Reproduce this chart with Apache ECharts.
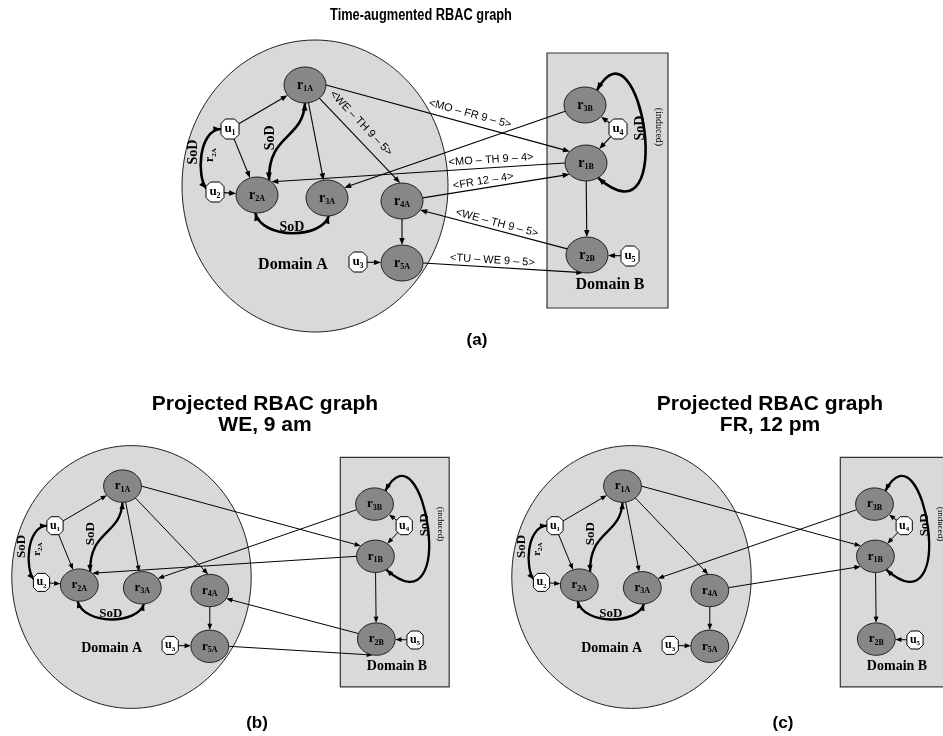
<!DOCTYPE html>
<html>
<head>
<meta charset="utf-8">
<script src="https://cdn.jsdelivr.net/npm/echarts@6/dist/echarts.min.js"></script>
<style>
html, body { margin: 0; padding: 0; background: #fff; }
#main { width: 943px; height: 736px; }
</style>
</head>
<body>
<div id="main"></div>
<script>
// roles and users, placed in the units of panel (a)
const roleIds = ['r1A', 'r2A', 'r3A', 'r4A', 'r5A', 'r1B', 'r2B', 'r3B'];
const roleX = [305, 257, 327, 402, 402, 586, 587, 585];
const roleY = [85, 195, 198, 201, 263, 163, 255, 105];
const userIds = ['u1', 'u2', 'u3', 'u4', 'u5'];
const userX = [230, 215, 358, 618, 630];
const userY = [129, 192, 262, 129, 256];

// assignment / hierarchy links, arrow at the target
const linkFrom = ['u1', 'u1', 'u2', 'u3', 'u4', 'u4', 'u5', 'r1A', 'r1A', 'r4A', 'r1B', 'r1A', 'r3B', 'r1B', 'r4A', 'r2B', 'r5A'];
const linkTo = ['r1A', 'r2A', 'r2A', 'r5A', 'r3B', 'r1B', 'r2B', 'r3A', 'r4A', 'r5A', 'r2B', 'r1B', 'r3A', 'r2A', 'r1B', 'r4A', 'r2B'];
const linkTime = ['', '', '', '', '', '', '', '', '<WE – TH 9 – 5>', '', '', '<MO – FR 9 – 5>', '', '<MO – TH 9 – 4>', '<FR 12 – 4>', '<WE – TH 9 – 5>', '<TU – WE 9 – 5>'];
// which links are still there in the projected graphs
const linkInA = [1, 1, 1, 1, 1, 1, 1, 1, 1, 1, 1, 1, 1, 1, 1, 1, 1];
const linkInB = [1, 1, 1, 1, 1, 1, 1, 1, 1, 1, 1, 1, 1, 1, 0, 1, 1];
const linkInC = [1, 1, 1, 1, 1, 1, 1, 1, 1, 1, 1, 1, 1, 0, 1, 0, 0];

// separation of duty constraints
const sodFrom = ['u1', 'r2A', 'r2A', 'r3B'];
const sodTo = ['u2', 'r1A', 'r3A', 'r1B'];
const sodNote = ['r2A', '', '', '(induced)'];

// panel titles
const panelTitles = ['Time-augmented RBAC graph', 'Projected RBAC graph\nWE, 9 am', 'Projected RBAC graph\nFR, 12 pm'];
const panelTags = ['(a)', '(b)', '(c)'];

// ---- layout ----
const portOut = [null, null, null, null, null, null, null, null, 47, null, null, 0, 160, 180, -10, 200, 0];
const portIn = [null, null, null, null, null, null, null, null, -95, null, null, -140, -35, -47, 141, 30, 100];
const labelT = [0, 0, 0, 0, 0, 0, 0, 0, 0.4, 0, 0, 0.58, 0, 0.25, 0.42, 0.49, 0.43];
const labelGap = [0, 0, 0, 0, 0, 0, 0, 0, 13, 0, 0, 10, 0, 8, 7, 7, 7];

const sodPortOut = [180, -55, 95, -55];
const sodPortIn = [200, 90, 85, 55];
const sodHandleOut = [[-23, 1], [-1, -47], [7, 27], [43, -80]];
const sodHandleIn = [[-10, -11], [-2, 37], [-7, 23], [82, 72]];
const sodLabelOff = [[-8, -3], [-16, 0], [0, -6], [-4, -3]];
const sodLabelRot = [90, 90, 0, 90];
const sodNoteOff = [[9, 0], null, null, [14, -4]];
const sodNoteRot = [90, 0, 0, -90];

const domainA = { cx: 315, cy: 186, rx: 133, ry: 146, labelX: 293, labelY: 265 };
const domainB = { x0: 547, y0: 53, x1: 668, y1: 308, labelX: 610, labelY: 285 };

const panels = [
    { px: 315, py: 186, s: 1, time: true, links: linkInA, titleX: 421, titleY: 16, tagX: 477, tagY: 340 },
    { px: 131.5, py: 577, s: 0.9, time: false, links: linkInB, titleX: 265, titleY: 415, tagX: 257, tagY: 723 },
    { px: 631.5, py: 577, s: 0.9, time: false, links: linkInC, titleX: 770, titleY: 415, tagX: 783, tagY: 723 }
];
const XR = [170, 660], YR = [30, 340];

const SERIF = '"Liberation Serif", "DejaVu Serif", serif';
const SANS = '"Liberation Sans", Arial, sans-serif';
const ROLE_FILL = '#878787';
const DOMAIN_FILL = '#d9d9d9';

function nodeXY(id) {
    if (id[0] === 'r') {
        const i = roleIds.indexOf(id);
        return [roleX[i], roleY[i]];
    }
    const i = userIds.indexOf(id);
    return [userX[i], userY[i]];
}
function nodeRadii(id, s) {
    return id[0] === 'r' ? [21 * s, 18 * s] : [9 * s, 10 * s];
}
function edgePoint(c, r, toward, port) {
    if (port != null) {
        const a = port * Math.PI / 180;
        return [c[0] + r[0] * Math.cos(a), c[1] + r[1] * Math.sin(a)];
    }
    const dx = toward[0] - c[0], dy = toward[1] - c[1];
    const k = 1 / Math.sqrt((dx / r[0]) ** 2 + (dy / r[1]) ** 2);
    return [c[0] + dx * k, c[1] + dy * k];
}
function arrowHead(tip, from, s) {
    const dx = tip[0] - from[0], dy = tip[1] - from[1];
    const L = Math.hypot(dx, dy) || 1;
    const ux = dx / L, uy = dy / L, len = 7 * s, w = 2.7 * s;
    const bx = tip[0] - ux * len, by = tip[1] - uy * len;
    return {
        type: 'polygon',
        shape: { points: [tip, [bx - uy * w, by + ux * w], [bx + uy * w, by - ux * w]] },
        style: { fill: '#000' }
    };
}
function subLabel(main, sub, size, rotation, x, y) {
    return {
        type: 'text', x: x, y: y, rotation: rotation,
        style: {
            text: '{m|' + main + '}{d|' + sub + '}',
            align: 'center', verticalAlign: 'middle',
            rich: {
                m: { fontFamily: SERIF, fontWeight: 'bold', fontSize: size, lineHeight: size + 2, fill: '#000' },
                d: { fontFamily: SERIF, fontWeight: 'bold', fontSize: Math.round(size * 0.6), lineHeight: Math.round(size * 0.6), verticalAlign: 'bottom', fill: '#000' }
            }
        }
    };
}

function renderDomains(params, api) {
    const s = api.size([1, 0])[0];
    const c = api.coord([domainA.cx, domainA.cy]);
    const b0 = api.coord([domainB.x0, domainB.y0]);
    const b1 = api.coord([domainB.x1, domainB.y1]);
    const la = api.coord([domainA.labelX, domainA.labelY]);
    const lb = api.coord([domainB.labelX, domainB.labelY]);
    const font = 'bold ' + Math.round(16 * s) + 'px ' + SERIF;
    return {
        type: 'group',
        children: [
            { type: 'ellipse', shape: { cx: c[0], cy: c[1], rx: domainA.rx * s, ry: domainA.ry * s }, style: { fill: DOMAIN_FILL, stroke: '#222', lineWidth: 1 } },
            { type: 'rect', shape: { x: b0[0], y: b0[1], width: b1[0] - b0[0], height: b1[1] - b0[1] }, style: { fill: DOMAIN_FILL, stroke: '#333', lineWidth: 1.2 } },
            { type: 'text', x: la[0], y: la[1], style: { text: 'Domain A', font: font, fill: '#000', align: 'center', verticalAlign: 'middle' } },
            { type: 'text', x: lb[0], y: lb[1], style: { text: 'Domain B', font: font, fill: '#000', align: 'center', verticalAlign: 'middle' } }
        ]
    };
}

function makeLinkRender(showTime) {
    return function (params, api) {
        const k = api.value(4);
        const s = api.size([1, 0])[0];
        const a = api.coord([api.value(0), api.value(1)]);
        const b = api.coord([api.value(2), api.value(3)]);
        const p = edgePoint(a, nodeRadii(linkFrom[k], s), b, portOut[k]);
        const q = edgePoint(b, nodeRadii(linkTo[k], s), a, portIn[k]);
        const dx = q[0] - p[0], dy = q[1] - p[1], L = Math.hypot(dx, dy);
        const ux = dx / L, uy = dy / L, cut = 5 * s;
        const children = [
            { type: 'line', shape: { x1: p[0], y1: p[1], x2: q[0] - ux * cut, y2: q[1] - uy * cut }, style: { stroke: '#000', lineWidth: 1.1 * s } },
            arrowHead(q, p, s)
        ];
        if (showTime && linkTime[k]) {
            let ax = ux, ay = uy;
            if (ax < 0) { ax = -ax; ay = -ay; }
            const t = labelT[k], g = labelGap[k] * s;
            children.push({
                type: 'text',
                x: p[0] + dx * t + ay * g,
                y: p[1] + dy * t - ax * g,
                rotation: -Math.atan2(ay, ax),
                style: { text: linkTime[k], font: Math.round(10.5 * s) + 'px ' + SANS, fill: '#000', align: 'center', verticalAlign: 'middle' }
            });
        }
        return { type: 'group', children: children };
    };
}

function renderSod(params, api) {
    const k = api.value(4);
    const s = api.size([1, 0])[0];
    const a = api.coord([api.value(0), api.value(1)]);
    const b = api.coord([api.value(2), api.value(3)]);
    const p0 = edgePoint(a, nodeRadii(sodFrom[k], s), b, sodPortOut[k]);
    const p3 = edgePoint(b, nodeRadii(sodTo[k], s), a, sodPortIn[k]);
    const c1 = [p0[0] + sodHandleOut[k][0] * s, p0[1] + sodHandleOut[k][1] * s];
    const c2 = [p3[0] + sodHandleIn[k][0] * s, p3[1] + sodHandleIn[k][1] * s];
    const mid = [
        (p0[0] + 3 * c1[0] + 3 * c2[0] + p3[0]) / 8,
        (p0[1] + 3 * c1[1] + 3 * c2[1] + p3[1]) / 8
    ];
    const children = [
        {
            type: 'bezierCurve',
            shape: { x1: p0[0], y1: p0[1], cpx1: c1[0], cpy1: c1[1], cpx2: c2[0], cpy2: c2[1], x2: p3[0], y2: p3[1] },
            style: { stroke: '#000', lineWidth: 2.6 * s, fill: null }
        },
        arrowHead(p0, c1, s * 1.1),
        arrowHead(p3, c2, s * 1.1),
        {
            type: 'text',
            x: mid[0] + sodLabelOff[k][0] * s,
            y: mid[1] + sodLabelOff[k][1] * s,
            rotation: sodLabelRot[k] * Math.PI / 180,
            style: { text: 'SoD', font: 'bold ' + Math.round(14 * s) + 'px ' + SERIF, fill: '#000', align: 'center', verticalAlign: 'middle' }
        }
    ];
    const note = sodNote[k];
    if (note) {
        const nx = mid[0] + sodNoteOff[k][0] * s, ny = mid[1] + sodNoteOff[k][1] * s;
        const rot = sodNoteRot[k] * Math.PI / 180;
        if (note[0] === 'r') {
            children.push(subLabel(note[0], note.slice(1), Math.round(12 * s), rot, nx, ny));
        } else {
            children.push({ type: 'text', x: nx, y: ny, rotation: rot, style: { text: note, font: Math.round(10 * s) + 'px ' + SERIF, fill: '#000', align: 'center', verticalAlign: 'middle' } });
        }
    }
    return { type: 'group', children: children };
}

function renderRole(params, api) {
    const s = api.size([1, 0])[0];
    const c = api.coord([api.value(0), api.value(1)]);
    const id = roleIds[api.value(2)];
    return {
        type: 'group',
        children: [
            { type: 'ellipse', shape: { cx: c[0], cy: c[1], rx: 21 * s, ry: 18 * s }, style: { fill: ROLE_FILL, stroke: '#222', lineWidth: 1 } },
            subLabel('r', id.slice(1), Math.round(14 * s), 0, c[0], c[1])
        ]
    };
}

function renderUser(params, api) {
    const s = api.size([1, 0])[0];
    const c = api.coord([api.value(0), api.value(1)]);
    const id = userIds[api.value(2)];
    const w = 9 * s, h = 10 * s, k = 4.5 * s;
    const pts = [
        [c[0] - w + k, c[1] - h], [c[0] + w - k, c[1] - h], [c[0] + w, c[1] - h + k], [c[0] + w, c[1] + h - k],
        [c[0] + w - k, c[1] + h], [c[0] - w + k, c[1] + h], [c[0] - w, c[1] + h - k], [c[0] - w, c[1] - h + k]
    ];
    return {
        type: 'group',
        children: [
            { type: 'polygon', shape: { points: pts }, style: { fill: '#fff', stroke: '#000', lineWidth: 1 } },
            subLabel('u', id.slice(1), Math.round(13 * s), 0, c[0], c[1])
        ]
    };
}

const grid = [], xAxis = [], yAxis = [], series = [], graphic = [];
panels.forEach(function (p, i) {
    grid.push({
        left: p.px + p.s * (XR[0] - domainA.cx),
        top: p.py + p.s * (YR[0] - domainA.cy),
        width: p.s * (XR[1] - XR[0]),
        height: p.s * (YR[1] - YR[0])
    });
    xAxis.push({ type: 'value', gridIndex: i, min: XR[0], max: XR[1], show: false });
    yAxis.push({ type: 'value', gridIndex: i, min: YR[0], max: YR[1], inverse: true, show: false });
    const on = { coordinateSystem: 'cartesian2d', xAxisIndex: i, yAxisIndex: i, silent: true, animation: false, clip: false };

    series.push(Object.assign({ type: 'custom', z: 1, renderItem: renderDomains, data: [[domainA.cx, domainA.cy]] }, on));

    const links = [];
    linkFrom.forEach(function (f, k) {
        if (!p.links[k]) return;
        const a = nodeXY(f), b = nodeXY(linkTo[k]);
        links.push([a[0], a[1], b[0], b[1], k]);
    });
    series.push(Object.assign({ type: 'custom', z: 2, renderItem: makeLinkRender(p.time), data: links }, on));

    const sods = sodFrom.map(function (f, k) {
        const a = nodeXY(f), b = nodeXY(sodTo[k]);
        return [a[0], a[1], b[0], b[1], k];
    });
    series.push(Object.assign({ type: 'custom', z: 3, renderItem: renderSod, data: sods }, on));

    series.push(Object.assign({ type: 'custom', z: 4, renderItem: renderRole, data: roleX.map(function (x, k) { return [x, roleY[k], k]; }) }, on));
    series.push(Object.assign({ type: 'custom', z: 4, renderItem: renderUser, data: userX.map(function (x, k) { return [x, userY[k], k]; }) }, on));

    graphic.push({
        type: 'text', x: p.titleX, y: p.titleY,
        scaleX: i === 0 ? 0.8 : 1,
        style: {
            text: panelTitles[i], fill: '#000', align: 'center', verticalAlign: 'middle',
            font: i === 0 ? 'bold 16px ' + SANS : 'bold 21px ' + SANS,
            lineHeight: 21
        }
    });
    graphic.push({
        type: 'text', x: p.tagX, y: p.tagY,
        style: { text: panelTags[i], fill: '#000', align: 'center', verticalAlign: 'middle', font: 'bold 17px ' + SANS }
    });
});

const chart = echarts.init(document.getElementById('main'));
chart.setOption({
    backgroundColor: '#fff',
    animation: false,
    grid: grid,
    xAxis: xAxis,
    yAxis: yAxis,
    graphic: graphic,
    series: series
});
</script>
</body>
</html>
